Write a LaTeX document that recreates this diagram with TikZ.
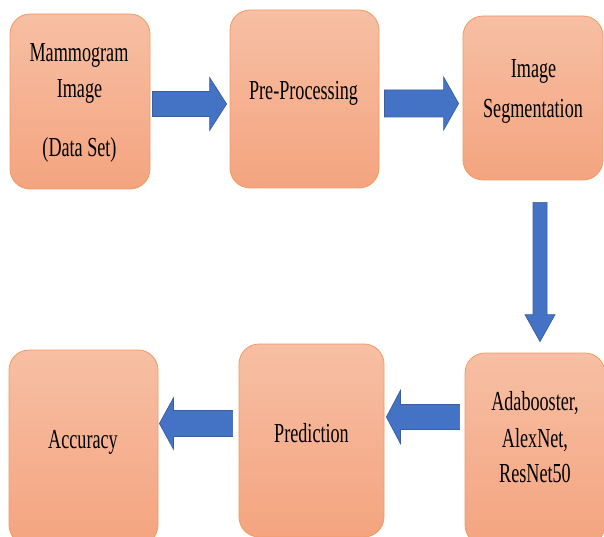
\documentclass[tikz,border=0pt]{standalone}
\usepackage{fontspec}
\setmainfont{Liberation Serif}[FakeStretch=0.66]
\usetikzlibrary{calc}
\definecolor{boxtop}{HTML}{F7BFA4}
\definecolor{boxbot}{HTML}{F4A47F}
\definecolor{boxline}{HTML}{F29A64}
\definecolor{arrfill}{HTML}{4472C4}
\definecolor{arrline}{HTML}{3A5FA0}
\tikzset{
  stage/.style={rounded corners=20pt, draw=boxline, line width=0.8pt,
    top color=boxtop, bottom color=boxbot, inner sep=0pt},
  label/.style={anchor=base, inner sep=0pt, font=\fontsize{27.5}{36}\selectfont},
  flow/.style={draw=arrline, fill=arrfill, line width=0.7pt},
  % block arrow along x: #1 shaft half width, #2 head half width, #3 head length
  harrow/.style n args={3}{to path={
    let \p1=(\tikztostart), \p2=(\tikztotarget), \n1={ifthenelse(\x2>\x1,1,-1)} in
    (\x1,\y1+#1) -- (\x2-\n1*#3,\y1+#1) -- (\x2-\n1*#3,\y1+#2) -- (\x2,\y1)
    -- (\x2-\n1*#3,\y1-#2) -- (\x2-\n1*#3,\y1-#1) -- (\x1,\y1-#1) -- cycle}},
  % block arrow along y
  varrow/.style n args={3}{to path={
    let \p1=(\tikztostart), \p2=(\tikztotarget), \n1={ifthenelse(\y2>\y1,1,-1)} in
    (\x1+#1,\y1) -- (\x1+#1,\y2-\n1*#3) -- (\x1+#2,\y2-\n1*#3) -- (\x1,\y2)
    -- (\x1-#2,\y2-\n1*#3) -- (\x1-#1,\y2-\n1*#3) -- (\x1-#1,\y1) -- cycle}},
}
\begin{document}
\begin{tikzpicture}[x=1pt, y=-1pt]
  \useasboundingbox (0,0) rectangle (604,537);
  \clip (0,0) rectangle (604,537);

  % process stages
  \node[stage, minimum width=140pt, minimum height=175pt] (mam) at (80,101.5) {};
  \node[stage, minimum width=149pt, minimum height=178pt] (pre) at (304.5,99) {};
  \node[stage, minimum width=140pt, minimum height=164pt] (seg) at (533,98) {};
  \node[stage, minimum width=140pt, minimum height=192pt] (cls) at (535,449) {};
  \node[stage, minimum width=145pt, minimum height=193pt] (pred) at (311.5,440.5) {};
  \node[stage, minimum width=149pt, minimum height=195pt] (acc) at (83.5,447.5) {};

  % stage captions
  \node[label] (mamA) at (79,62) {Mammogram};
  \node[label] (mamB) at (79.5,98) {Image};
  \node[label] (mamC) at (79.5,157) {(Data Set)};
  \node[label] (preA) at (303.5,100) {Pre-Processing};
  \node[label] (segA) at (533.5,78) {Image};
  \node[label] (segB) at (533,118) {Segmentation};
  \node[label] (clsA) at (535,410) {Adabooster,};
  \node[label] (clsB) at (535,447) {AlexNet,};
  \node[label] (clsC) at (535,482) {ResNet50};
  \node[label] (predA) at (311.5,442) {Prediction};
  \node[label] (accA) at (83,448) {Accuracy};

  % arrow end points
  \coordinate (a1s) at ($(mam.east)+(2,2.5)$);
  \coordinate (a1e) at ($(pre.west)+(-3,5)$);
  \coordinate (a2s) at ($(pre.east)+(5,4.5)$);
  \coordinate (a2e) at ($(seg.west)+(-4,5.5)$);
  \coordinate (a3s) at ($(seg.south)+(7,22)$);
  \coordinate (a3e) at ($(cls.north)+(5,-11)$);
  \coordinate (a4s) at ($(cls.west)+(-5,-32)$);
  \coordinate (a4e) at ($(pred.east)+(2,-23)$);
  \coordinate (a5s) at ($(pred.west)+(-6,-17)$);
  \coordinate (a5e) at ($(acc.east)+(1,-25)$);

  % flow arrows
  \path[flow] (a1s) to[harrow={12.5pt}{26.5pt}{17pt}] (a1e);
  \path[flow] (a2s) to[harrow={13.5pt}{26.5pt}{15pt}] (a2e);
  \path[flow] (a3s) to[varrow={7pt}{15pt}{27pt}] (a3e);
  \path[flow] (a4s) to[harrow={12.5pt}{26.5pt}{14pt}] (a4e);
  \path[flow] (a5s) to[harrow={13pt}{25.5pt}{14pt}] (a5e);
\end{tikzpicture}
\end{document}
